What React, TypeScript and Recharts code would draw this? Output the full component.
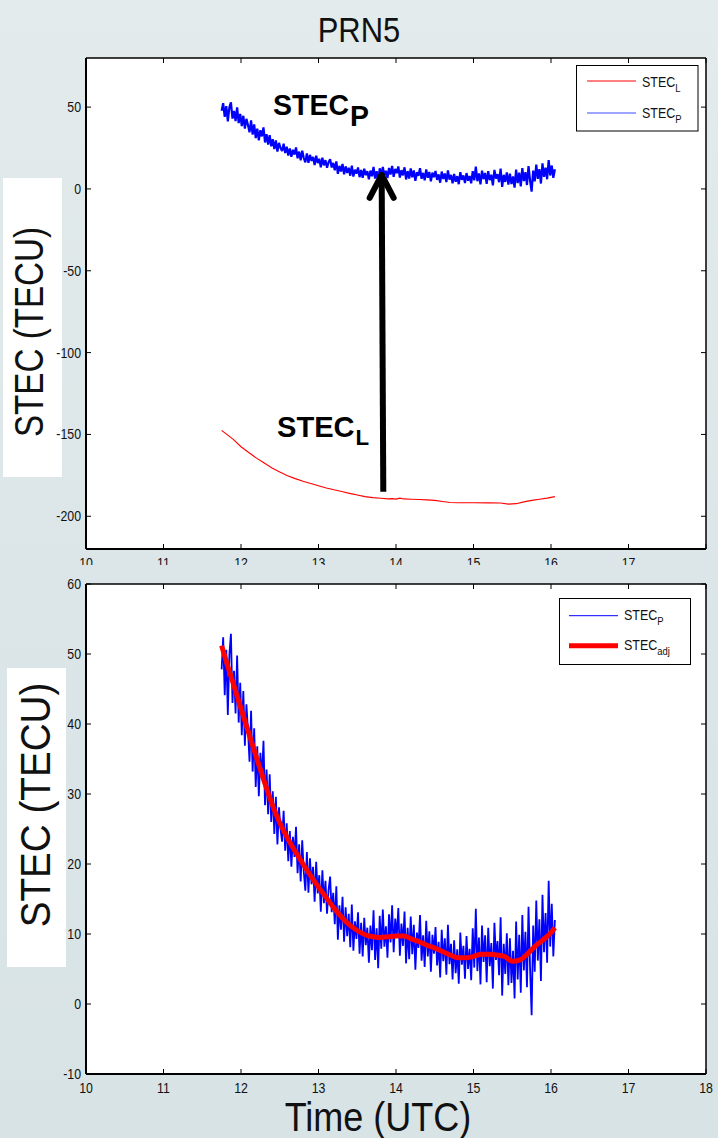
import React from 'react';
import { LineChart, Line, XAxis, YAxis, CartesianGrid, ReferenceLine } from 'recharts';

const FONT = '"Liberation Sans", Arial, Helvetica, sans-serif';

// STEC_P samples (TECU), one every 0.02 h starting 11.75 UTC
const P_START = 11.75;
const P_STEP = 0.02;
const stecP = [
  47.8, 52.4, 44.1, 50.6, 41.3, 49.9, 52.9, 43.0, 47.6, 41.5,
  49.8, 40.2, 45.9, 38.4, 44.7, 36.9, 42.8, 39.1, 34.6, 41.9,
  33.2, 39.4, 31.0, 36.8, 29.7, 35.9, 32.1, 37.6, 28.4, 33.5,
  27.1, 32.8, 26.0, 30.4, 24.3, 29.6, 22.8, 28.1, 25.0, 23.2,
  27.6, 21.9, 25.8, 20.4, 24.7, 19.6, 23.9, 21.0, 25.3, 18.7,
  22.8, 17.5, 23.4, 18.9, 16.2, 21.7, 15.9, 20.8, 17.1, 19.6,
  14.6, 20.3, 15.8, 18.4, 13.2, 19.1, 14.4, 17.6, 12.9, 16.3,
  18.2, 13.1, 15.9, 11.4, 16.8, 9.2, 14.1, 10.6, 15.3, 8.9,
  13.8, 9.7, 12.9, 8.1, 14.2, 7.6, 11.8, 9.3, 13.1, 7.2,
  11.6, 6.8, 12.3, 8.4, 10.9, 5.9, 11.2, 7.7, 13.4, 6.3,
  10.8, 5.1, 12.6, 7.9, 13.5, 8.2, 11.1, 6.6, 12.8, 8.8,
  14.1, 7.4, 12.2, 9.6, 13.7, 6.9, 11.5, 8.3, 13.2, 5.8,
  10.9, 6.4, 12.5, 7.1, 11.3, 4.9, 10.2, 8.0, 12.7, 6.2,
  9.8, 5.3, 11.9, 6.8, 10.4, 4.6, 9.9, 7.2, 11.0, 5.5,
  8.9, 3.8, 10.6, 6.1, 9.4, 4.2, 11.3, 5.7, 8.6, 3.5,
  9.1, 4.4, 7.8, 2.9, 10.2, 5.6, 8.3, 3.6, 9.7, 5.0,
  7.9, 3.4, 10.8, 5.2, 13.6, 4.7, 9.5, 2.8, 11.2, 6.0,
  9.8, 3.1, 10.9, 5.4, 8.7, 2.2, 11.6, 6.3, 9.0, 4.1,
  12.4, 1.2, 8.6, 4.3, 10.1, 2.7, 9.4, 3.0, 7.6, 0.8,
  11.8, 3.5, 9.9, 1.6, 12.7, 4.8, 10.3, 2.4, 13.9, 5.1,
  -1.6, 11.2, 4.6, 14.8, 6.2, 12.1, 3.3, 15.6, 7.4, 13.0,
  5.9, 17.6, 8.2, 14.3, 6.8, 12.0,
];

// STEC_L (TECU)
const stecLTimes = [11.75, 11.9, 12.0, 12.1, 12.2, 12.3, 12.4, 12.5, 12.6, 12.7, 12.8, 12.9, 13.0, 13.1, 13.2, 13.3, 13.4, 13.5, 13.6, 13.7, 13.8, 13.9, 13.95, 14.0, 14.05, 14.1, 14.2, 14.3, 14.4, 14.5, 14.6, 14.7, 14.8, 15.0, 15.2, 15.35, 15.45, 15.55, 15.65, 15.75, 15.85, 15.95, 16.05];
const stecLValues = [-147.5, -153, -157.5, -161, -164.5, -167.5, -170.5, -173, -175.2, -177, -178.6, -180, -181.3, -182.7, -183.8, -184.9, -186, -187, -188, -188.6, -189, -189.4, -189.2, -189.5, -188.9, -189.4, -189.6, -189.8, -190, -190.3, -191, -191.6, -191.7, -191.7, -191.8, -191.9, -192.6, -192.3, -191.2, -190.3, -189.6, -188.9, -188.0];

// STEC_adj (TECU)
const adjTimes = [11.75, 11.8, 11.9, 12.0, 12.1, 12.2, 12.3, 12.4, 12.5, 12.6, 12.7, 12.8, 12.9, 13.0, 13.1, 13.2, 13.3, 13.4, 13.5, 13.6, 13.7, 13.8, 13.9, 14.0, 14.1, 14.2, 14.3, 14.4, 14.5, 14.6, 14.7, 14.8, 14.9, 15.0, 15.1, 15.2, 15.3, 15.4, 15.5, 15.6, 15.7, 15.8, 15.9, 16.0, 16.05];
const adjValues = [51.2, 49.3, 45.8, 42.2, 38.7, 35.2, 31.8, 28.6, 25.9, 23.7, 21.8, 20.0, 18.3, 16.7, 15.2, 13.7, 12.4, 11.3, 10.5, 9.9, 9.6, 9.5, 9.6, 9.7, 9.7, 9.3, 8.9, 8.4, 8.0, 7.5, 7.0, 6.6, 6.6, 6.8, 7.1, 7.1, 7.0, 6.8, 6.1, 6.3, 7.2, 8.3, 9.2, 10.2, 10.9];

// Axis ticks
const xTicks = [10, 11, 12, 13, 14, 15, 16, 17, 18];
const topYTicks = [50, 0, -50, -100, -150, -200];
const botYTicks = [60, 50, 40, 30, 20, 10, 0, -10];
const topYDomain = [-220, 80];
const botYDomain = [-10, 60];

// Arrow annotation (data coords)
const arrowFrom = { x: 13.836, y: -185 };
const arrowTo = { x: 13.815, y: 11 };

const pData = stecP.map((v, i) => ({ t: Math.round((P_START + i * P_STEP) * 100) / 100, v }));
const lData = stecLTimes.map((t, i) => ({ t, v: stecLValues[i] }));
const adjData = adjTimes.map((t, i) => ({ t, v: adjValues[i] }));

const TICK_FS = 14;
const TICK_SX = 0.88;

const LeftTick = (props: any) => {
  const { x, y, payload } = props;
  return (
    <g>
      <line x1={x} y1={y} x2={x + 5} y2={y} stroke="#000" strokeWidth={1} />
      <text transform={`translate(${x - 5},${y + 5}) scale(${TICK_SX},1)`} textAnchor="end" fontSize={TICK_FS} fontFamily={FONT} fill="#111">
        {payload.value}
      </text>
    </g>
  );
};

const RightTick = (props: any) => {
  const { x, y } = props;
  return <line x1={x} y1={y} x2={x - 5} y2={y} stroke="#000" strokeWidth={1} />;
};

const TopTick = (props: any) => {
  const { x, y } = props;
  return <line x1={x} y1={y} x2={x} y2={y + 5} stroke="#000" strokeWidth={1} />;
};

const makeBottomTick = (hideLast: boolean) => (props: any) => {
  const { x, y, payload } = props;
  const show = !(hideLast && payload.value === 18);
  return (
    <g>
      <line x1={x} y1={y} x2={x} y2={y - 5} stroke="#000" strokeWidth={1} />
      {show && (
        <text transform={`translate(${x},${y + 19}) scale(${TICK_SX},1)`} textAnchor="middle" fontSize={TICK_FS} fontFamily={FONT} fill="#111">
          {payload.value}
        </text>
      )}
    </g>
  );
};

const ArrowShape = (props: any) => {
  const { x1, y1, x2, y2 } = props;
  if ([x1, y1, x2, y2].some((v) => typeof v !== 'number' || isNaN(v))) return <g />;
  return (
    <g>
      <line x1={x1} y1={y1} x2={x2} y2={y2 + 3} stroke="#000" strokeWidth={6} />
      <polyline points={`${x2 - 12},${y2 + 27} ${x2},${y2 + 4} ${x2 + 12},${y2 + 27}`} fill="none" stroke="#000" strokeWidth={6} strokeLinecap="round" strokeLinejoin="round" />
    </g>
  );
};

const TopBottomTick = makeBottomTick(true);
const BotBottomTick = makeBottomTick(false);

function TopChart() {
  return (
    <LineChart width={718} height={600} margin={{ top: 48, right: 0, bottom: 21, left: 26 }}>
      <CartesianGrid fill="#ffffff" stroke="none" horizontal={false} vertical={false} />
      <XAxis xAxisId={0} type="number" dataKey="t" domain={[10, 18]} ticks={xTicks} allowDataOverflow height={30} tickSize={0} tickMargin={0} tickLine={false} axisLine={{ stroke: '#000', strokeWidth: 2 }} tick={TopBottomTick} interval={0} />
      <XAxis xAxisId="top" orientation="top" type="number" dataKey="t" domain={[10, 18]} ticks={xTicks} allowDataOverflow height={10} tickSize={0} tickMargin={0} tickLine={false} axisLine={{ stroke: '#000', strokeWidth: 1.5 }} tick={TopTick} interval={0} />
      <YAxis yAxisId={0} type="number" domain={topYDomain} ticks={topYTicks} allowDataOverflow width={60} tickSize={0} tickMargin={0} tickLine={false} axisLine={{ stroke: '#000', strokeWidth: 2 }} tick={LeftTick} interval={0} />
      <YAxis yAxisId="right" orientation="right" type="number" domain={topYDomain} ticks={topYTicks} allowDataOverflow width={12} tickSize={0} tickMargin={0} tickLine={false} axisLine={{ stroke: '#000', strokeWidth: 1.5 }} tick={RightTick} interval={0} />
      <Line data={lData} dataKey="v" type="linear" stroke="#ff0000" strokeWidth={1.1} dot={false} isAnimationActive={false} />
      <Line data={pData} dataKey="v" type="linear" stroke="#0000ff" strokeWidth={2.2} strokeLinejoin="bevel" dot={false} isAnimationActive={false} />
      <ReferenceLine segment={[arrowFrom, arrowTo]} shape={ArrowShape} />
    </LineChart>
  );
}

function BottomChart() {
  return (
    <LineChart width={718} height={578} margin={{ top: 14, right: 0, bottom: 34, left: 26 }}>
      <CartesianGrid fill="#ffffff" stroke="none" horizontal={false} vertical={false} />
      <XAxis xAxisId={0} type="number" dataKey="t" domain={[10, 18]} ticks={xTicks} allowDataOverflow height={30} tickSize={0} tickMargin={0} tickLine={false} axisLine={{ stroke: '#000', strokeWidth: 2 }} tick={BotBottomTick} interval={0} />
      <XAxis xAxisId="top" orientation="top" type="number" dataKey="t" domain={[10, 18]} ticks={xTicks} allowDataOverflow height={10} tickSize={0} tickMargin={0} tickLine={false} axisLine={{ stroke: '#000', strokeWidth: 1.5 }} tick={TopTick} interval={0} />
      <YAxis yAxisId={0} type="number" domain={botYDomain} ticks={botYTicks} allowDataOverflow width={60} tickSize={0} tickMargin={0} tickLine={false} axisLine={{ stroke: '#000', strokeWidth: 2 }} tick={LeftTick} interval={0} />
      <YAxis yAxisId="right" orientation="right" type="number" domain={botYDomain} ticks={botYTicks} allowDataOverflow width={12} tickSize={0} tickMargin={0} tickLine={false} axisLine={{ stroke: '#000', strokeWidth: 1.5 }} tick={RightTick} interval={0} />
      <Line data={pData} dataKey="v" type="linear" stroke="#0000ff" strokeWidth={1.8} strokeLinejoin="bevel" dot={false} isAnimationActive={false} />
      <Line data={adjData} dataKey="v" type="monotone" stroke="#ff0000" strokeWidth={5} dot={false} isAnimationActive={false} />
    </LineChart>
  );
}

function Sub({ x, y, main, sub, fs, sfs, dy, sx }: any) {
  return (
    <text transform={`translate(${x},${y}) scale(${sx},1)`} fontSize={fs} fill="#111" fontFamily={FONT}>
      {main}
      <tspan fontSize={sfs} dy={dy}>{sub}</tspan>
    </text>
  );
}

function UnderLayer() {
  // Top y-label box sits beneath the chart's tick labels
  return (
    <svg width={718} height={1138} style={{ position: 'absolute', left: 0, top: 0 }} fontFamily={FONT}>
      <rect x={3} y={178} width={59} height={299} fill="#ffffff" />
    </svg>
  );
}

function Overlay() {
  return (
    <svg width={718} height={1138} style={{ position: 'absolute', left: 0, top: 0, pointerEvents: 'none' }} fontFamily={FONT}>
      {/* Title */}
      <text transform="translate(359,42) scale(0.86,1)" textAnchor="middle" fontSize={36} fill="#111">PRN5</text>

      {/* Annotations */}
      <text transform="translate(273,115) scale(0.95,1)" fontSize={30} fontWeight="bold" fill="#000">
        STEC<tspan dx={1} dy={11}>P</tspan>
      </text>
      <text transform="translate(277,437) scale(0.97,1)" fontSize={30} fontWeight="bold" fill="#000">
        STEC<tspan dx={1} dy={8} fontSize={23}>L</tspan>
      </text>

      {/* Y labels */}
      <text transform="translate(43,332) rotate(-90) scale(0.83,1)" textAnchor="middle" fontSize={40} fill="#111">STEC (TECU)</text>
      <rect x={7} y={668} width={59} height={299} fill="#ffffff" />
      <text transform="translate(50,805) rotate(-90) scale(0.92,1)" textAnchor="middle" fontSize={42} fill="#111">STEC (TECU)</text>

      {/* X label */}
      <text transform="translate(378,1131) scale(0.9,1)" textAnchor="middle" fontSize={40} fill="#111">Time (UTC)</text>

      {/* Top legend */}
      <rect x={576.5} y={65.5} width={121.5} height={65.5} fill="#ffffff" stroke="#000" strokeWidth={1} />
      <line x1={587} y1={81} x2={636} y2={81} stroke="#ff0000" strokeWidth={1} />
      <Sub x={642} y={87} main="STEC" sub="L" fs={14.5} sfs={11} dy={5} sx={0.86} />
      <line x1={587} y1={113} x2={636} y2={113} stroke="#3a4dff" strokeWidth={1.2} />
      <Sub x={642} y={118} main="STEC" sub="P" fs={14.5} sfs={11} dy={5} sx={0.86} />

      {/* Bottom legend */}
      <rect x={559.5} y={598.5} width={131} height={66} fill="#ffffff" stroke="#000" strokeWidth={1} />
      <line x1={569} y1={615.7} x2={618} y2={615.7} stroke="#0000ff" strokeWidth={1} />
      <Sub x={624} y={620} main="STEC" sub="P" fs={14.5} sfs={11} dy={5} sx={0.86} />
      <line x1={569} y1={645.7} x2={618} y2={645.7} stroke="#ff0000" strokeWidth={5} />
      <Sub x={624} y={650} main="STEC" sub="adj" fs={14.5} sfs={11} dy={5} sx={0.86} />
    </svg>
  );
}

export default function App() {
  return (
    <div
      style={{
        position: 'absolute',
        left: 0,
        top: 0,
        width: 718,
        height: 1138,
        overflow: 'hidden',
        background: 'linear-gradient(180deg, #e3ebec 0%, #dce6e8 50%, #d8e3e6 100%)',
      }}
    >
      <UnderLayer />
      <div style={{ position: 'absolute', left: 0, top: 0, width: 718, height: 565, overflow: 'hidden' }}>
        <TopChart />
      </div>
      <div style={{ position: 'absolute', left: 0, top: 560, width: 718, height: 578 }}>
        <BottomChart />
      </div>
      <Overlay />
    </div>
  );
}
